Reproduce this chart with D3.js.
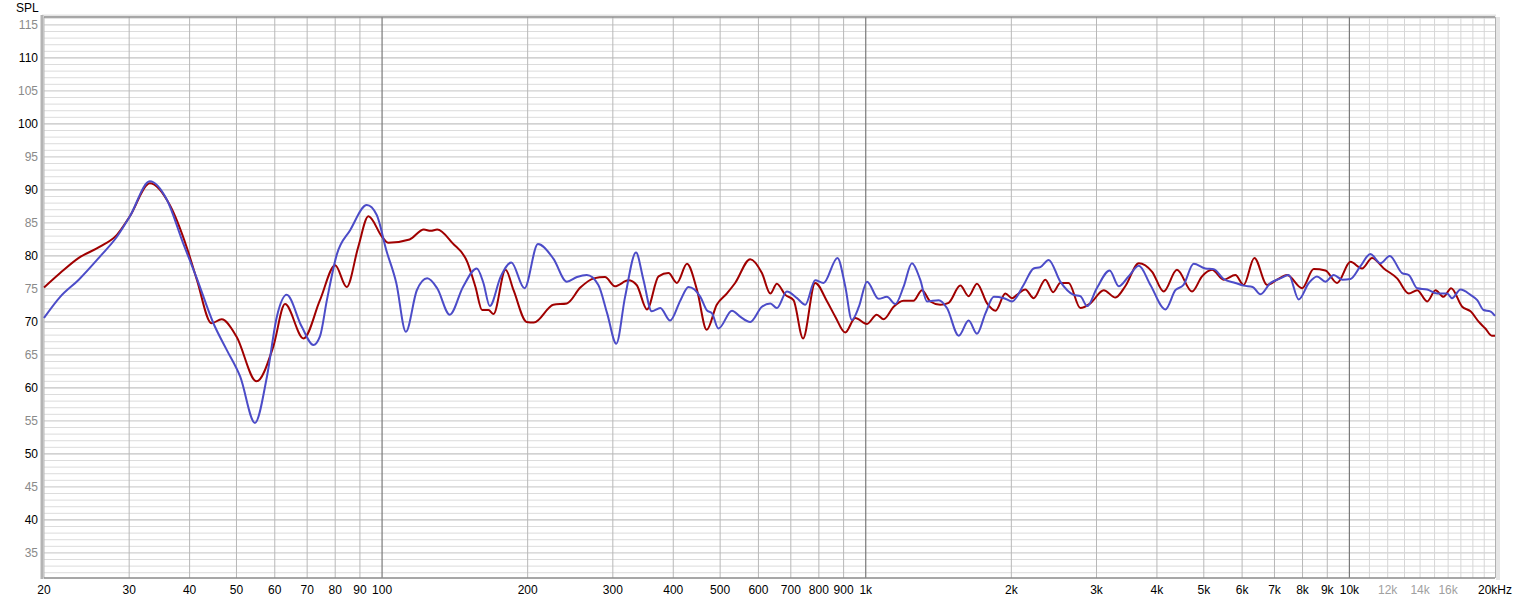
<!DOCTYPE html>
<html><head><meta charset="utf-8">
<script src="https://cdn.jsdelivr.net/npm/d3@7/dist/d3.min.js"></script>
<style>html,body{margin:0;padding:0;background:#fff;}svg{display:block;font-family:"Liberation Sans",Arial,sans-serif;}</style>
</head><body>
<svg id="c" width="1516" height="603"></svg>
<script>
// ---- data ----
const redFreq = [20,21.6,23.6,26.1,28.3,30.1,33.1,36.4,39.5,41.4,44.4,46.6,50,55,59.6,63,68.8,74.4,80,84.5,89.3,93.7,100,103,114,122,126,130,140,150,156,161,166,170,180,187,199,206,226,241,257,274,289,303,323,336,353,373,391,407,427,448,469,492,516,537,577,610,635,655,682,709,742,786,832,865,907,951,1006,1054,1089,1142,1197,1255,1307,1360,1426,1484,1569,1632,1698,1782,1855,1944,2007,2054,2138,2224,2352,2440,2525,2627,2778,2913,3105,3283,3440,3670,3910,4131,4400,4728,4958,5200,5495,5810,6044,6360,6760,7090,7434,7985,8437,8920,9434,10050,10620,11140,11780,12550,13270,13810,14480,15070,15650,16230,17110,17800,18520,19100,19700,20000];
const redSpl = [75.2,77.4,79.7,81.4,83.2,86.0,91.0,87.7,81.2,76.4,69.8,70.4,67.8,61.0,66.3,72.7,67.5,73.3,78.6,75.3,81.4,86.0,82.9,82.0,82.5,84.0,83.8,84.0,81.9,79.1,75.3,71.8,71.8,71.2,77.9,74.8,70.0,69.9,72.6,72.8,75.2,76.6,76.8,75.4,76.3,75.6,71.9,76.9,77.4,75.9,78.8,74.8,68.8,72.6,74.3,75.9,79.5,77.4,74.3,75.8,74.1,73.3,67.5,75.9,73.1,70.8,68.4,70.6,69.7,71.1,70.4,72.3,73.2,73.2,74.8,73.1,72.6,72.9,75.5,73.9,75.8,72.8,71.7,74.3,73.6,74.1,74.9,73.6,76.4,74.5,75.9,75.9,72.1,72.8,74.8,73.7,75.4,78.9,77.6,74.6,77.9,74.6,76.9,77.9,76.4,77.1,75.6,79.7,75.6,76.4,77.1,75.1,78.0,77.8,75.9,79.1,78.1,79.7,78.1,76.6,74.3,74.8,73.1,74.8,73.8,75.1,72.3,71.6,70.0,69.0,67.9,67.9];
const blueFreq = [20,21.6,23.6,26.1,28.3,30.1,33.1,35.9,38.8,41.4,44.8,47.7,50.9,54.6,57.8,60.6,63.5,68.2,72.1,74.4,76.9,80.6,85.9,93,97.5,102,107,112,118,124,130,138,147,157,162,167,176,185,197,210,226,241,253,265,280,292,305,318,335,347,361,376,394,414,430,455,469,481,496,529,550,577,610,635,655,687,721,750,786,818,874,907,936,968,1006,1063,1106,1151,1197,1246,1296,1339,1415,1472,1557,1632,1698,1768,1840,1930,2007,2120,2224,2296,2389,2525,2690,2778,2870,3004,3194,3335,3495,3670,3878,4165,4367,4540,4764,5036,5240,5495,5810,6044,6310,6547,6866,7200,7490,7857,8242,8570,8920,9280,9677,10050,10530,11050,11590,12120,12850,13270,13810,14480,15190,15930,16300,16970,17800,18380,18940,19550,20000];
const blueSpl = [70.6,73.8,76.4,79.9,82.9,86.0,91.3,88.5,81.9,76.6,69.8,65.8,61.7,54.7,61.7,70.8,74.1,69.3,66.5,67.8,73.3,80.2,83.9,87.7,86.2,80.9,75.9,68.5,74.8,76.6,75.1,71.1,75.3,78.1,75.9,72.4,76.9,79.0,75.1,81.8,79.6,76.1,76.8,77.1,75.6,71.3,66.7,73.8,80.5,76.4,71.6,72.1,70.2,73.3,75.3,73.8,71.8,71.3,69.0,71.7,70.8,70.0,72.3,72.8,72.1,74.6,73.6,72.6,76.3,75.9,79.7,75.4,70.3,72.3,76.1,73.5,73.8,72.7,75.3,78.9,76.4,73.1,73.3,72.1,67.9,70.2,68.2,71.3,73.8,73.6,73.1,75.6,78.1,78.3,79.4,76.1,74.1,73.9,72.4,75.1,77.8,75.4,76.9,78.5,75.6,71.9,74.8,75.6,78.8,78.1,78.0,76.5,75.9,75.5,75.3,74.2,75.9,76.6,77.1,73.4,75.9,76.9,76.1,77.1,76.4,76.5,78.4,80.3,78.9,80.0,77.4,77.1,75.1,74.9,74.3,74.3,73.6,74.9,74.1,73.3,71.8,71.6,70.9];

const yLabelValues = [35,40,45,50,55,60,65,70,75,80,85,90,95,100,105,110,115];
const xTickValues = [20,30,40,50,60,70,80,90,100,200,300,400,500,600,700,800,900,1000,2000,3000,4000,5000,6000,7000,8000,9000,10000,12000,14000,16000,20000];
const xTickLabels = ["20","30","40","50","60","70","80","90","100","200","300","400","500","600","700","800","900","1k","2k","3k","4k","5k","6k","7k","8k","9k","10k","12k","14k","16k","20kHz"];
const xGrayLabels = ["12k","14k","16k"];
const xMinorHigh = [11000,12000,13000,14000,15000,16000,17000,18000,19000];
const xDecades = [100,1000,10000];

// ---- layout ----
const L = 44, R = 1495, T = 17, B = 578;
const svg = d3.select("#c");
const x = d3.scaleLog().domain([20,20000]).range([L,R]);
const y = d3.scaleLinear().domain([31.2,116.2]).range([B,T]);

const g = svg.append("g");
// minor horizontal grid (1 dB)
const minorY = d3.range(32,117,1).filter(v => v % 5 !== 0);
g.selectAll(".hm").data(minorY).enter().append("line")
  .attr("x1",L).attr("x2",R).attr("y1",d=>y(d)).attr("y2",d=>y(d))
  .attr("stroke","#dcdcdc").attr("stroke-width",1);
// 5 dB lines
g.selectAll(".h5").data(yLabelValues).enter().append("line")
  .attr("x1",L).attr("x2",R).attr("y1",d=>y(d)).attr("y2",d=>y(d))
  .attr("stroke",d=> d%10===0 ? "#b4b4b4" : "#c4c4c4").attr("stroke-width",1);
// vertical minor above 10k
g.selectAll(".vh").data(xMinorHigh).enter().append("line")
  .attr("y1",T).attr("y2",B).attr("x1",d=>x(d)).attr("x2",d=>x(d))
  .attr("stroke","#d6d6d6").attr("stroke-width",1);
// vertical main lines
const vMain = [20,30,40,50,60,70,80,90,200,300,400,500,600,700,800,900,2000,3000,4000,5000,6000,7000,8000,9000];
g.selectAll(".vm").data(vMain).enter().append("line")
  .attr("y1",T).attr("y2",B).attr("x1",d=>x(d)).attr("x2",d=>x(d))
  .attr("stroke","#b8b8b8").attr("stroke-width",1);
g.selectAll(".vd").data(xDecades).enter().append("line")
  .attr("y1",T).attr("y2",B).attr("x1",d=>x(d)).attr("x2",d=>x(d))
  .attr("stroke","#7a7a7a").attr("stroke-width",1.2);

// frame
svg.append("line").attr("x1",L-2).attr("x2",R+1).attr("y1",T-1.5).attr("y2",T-1.5).attr("stroke","#e4e4e4").attr("stroke-width",2);
svg.append("line").attr("x1",L).attr("x2",R).attr("y1",T).attr("y2",T).attr("stroke","#8c8c8c").attr("stroke-width",1.5);
svg.append("line").attr("x1",L).attr("x2",R).attr("y1",B).attr("y2",B).attr("stroke","#8a8a8a").attr("stroke-width",1.5);
svg.append("line").attr("x1",L-2).attr("x2",L-2).attr("y1",T-2).attr("y2",B+1).attr("stroke","#b4b4b4").attr("stroke-width",3);
svg.append("line").attr("x1",R+0.5).attr("x2",R+0.5).attr("y1",T).attr("y2",B).attr("stroke","#b0b0b0").attr("stroke-width",1);
svg.append("line").attr("x1",R+3).attr("x2",R+3).attr("y1",T).attr("y2",B+2).attr("stroke","#e6e6e6").attr("stroke-width",4);

// curves
const line = d3.line().x(d=>x(d[0])).y(d=>y(d[1])).curve(d3.curveMonotoneX);
const redData = redFreq.map((f,i)=>[f,redSpl[i]]);
const blueData = blueFreq.map((f,i)=>[f,blueSpl[i]]);
svg.append("path").datum(redData).attr("d",line).attr("fill","none").attr("stroke","#a00000").attr("stroke-width",2);
svg.append("path").datum(blueData).attr("d",line).attr("fill","none").attr("stroke","#4c4cc8").attr("stroke-width",2);

// y labels
svg.selectAll(".yl").data(yLabelValues).enter().append("text")
  .attr("x",38).attr("y",d=>y(d)).attr("dy","0.36em").attr("text-anchor","end")
  .attr("font-size",12).attr("fill",d=> d%10===0 ? "#000" : "#8a8a8a").text(d=>d);
svg.append("text").attr("x",16).attr("y",12).attr("font-size",12).attr("fill","#000").text("SPL");

// x labels
svg.selectAll(".xl").data(xTickValues).enter().append("text")
  .attr("x",d=>x(d)).attr("y",594).attr("text-anchor","middle")
  .attr("font-size",12)
  .attr("fill",(d,i)=> xGrayLabels.includes(xTickLabels[i]) ? "#a0a0a0" : "#000")
  .text((d,i)=>xTickLabels[i]);
</script>
</body></html>
